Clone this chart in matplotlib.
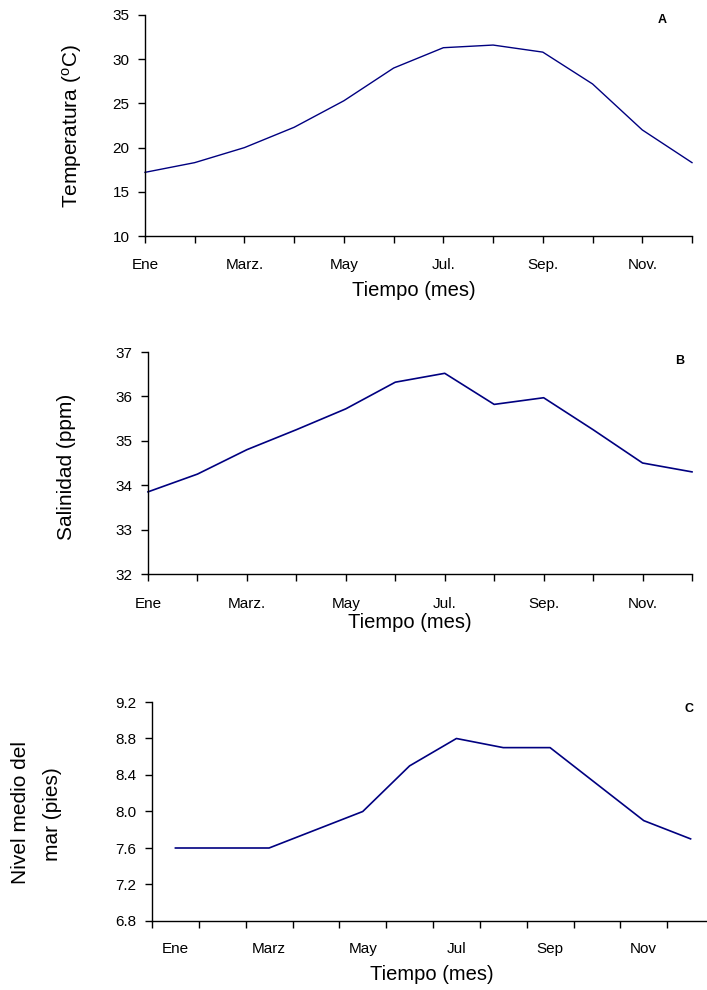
import matplotlib
matplotlib.use('Agg')
import matplotlib.pyplot as plt

W, H = 707, 990

months = list(range(12))
tick_names_a = ['Ene', '', 'Marz.', '', 'May', '', 'Jul.', '', 'Sep.', '', 'Nov.', '']
tick_names_c = ['Ene', '', 'Marz', '', 'May', '', 'Jul', '', 'Sep', '', 'Nov', '']

temperatura = [17.2, 18.3, 20.0, 22.3, 25.3, 29.0, 31.3, 31.6, 30.8, 27.2, 22.0, 18.3]
salinidad = [33.85, 34.25, 34.8, 35.25, 35.72, 36.32, 36.52, 35.82, 35.97, 35.25, 34.5, 34.3]
nivel_mar = [7.6, 7.6, 7.6, 7.8, 8.0, 8.5, 8.8, 8.7, 8.7, 8.3, 7.9, 7.7]

temp_ticks = [10, 15, 20, 25, 30, 35]
sal_ticks = [32, 33, 34, 35, 36, 37]
nivel_ticks = [6.8, 7.2, 7.6, 8.0, 8.4, 8.8, 9.2]

LINE = '#000080'
plt.rcParams['font.family'] = ['Liberation Sans', 'DejaVu Sans']
plt.rcParams['mathtext.fontset'] = 'custom'
plt.rcParams['mathtext.rm'] = 'Liberation Sans'

TICK_FS = 11
LABEL_FS = 15
XLABEL_FS = 14.5


def box(left, right, top, bottom):
    return [left / W, 1 - bottom / H, (right - left) / W, (bottom - top) / H]


def fx(px):
    return px / W


def fy(py):
    return 1 - py / H


def style(ax, yticks, ylabels, xpad):
    for s in ['top', 'right']:
        ax.spines[s].set_visible(False)
    for s in ['left', 'bottom']:
        ax.spines[s].set_linewidth(1.0)
    ax.set_yticks(yticks)
    ax.set_yticklabels(ylabels)
    ax.set_ylim(yticks[0], yticks[-1])
    ax.tick_params(axis='y', length=5, width=1, pad=6, labelsize=TICK_FS)
    ax.tick_params(axis='x', length=5, width=1, pad=xpad, labelsize=TICK_FS)


fig = plt.figure(figsize=(W / 100, H / 100), dpi=100)

# A
ax1 = fig.add_axes(box(145, 692, 15, 236))
ax1.plot(months, temperatura, color=LINE, lw=1.0, clip_on=False)
ax1.set_xlim(0, 11)
ax1.set_xticks(months)
ax1.set_xticklabels(tick_names_a)
style(ax1, temp_ticks, [str(v) for v in temp_ticks], 10.5)
fig.text(fx(72), fy(126), 'Temperatura ($\\mathregular{^{o}}$C)', rotation=90,
         ha='center', va='center', fontsize=LABEL_FS)
fig.text(fx(414), fy(291), 'Tiempo (mes)', ha='center', va='center',
         fontsize=XLABEL_FS)
fig.text(fx(662), fy(20), 'A', ha='center', va='center', fontsize=9, weight='bold')

# B
ax2 = fig.add_axes(box(148, 692, 352, 574))
ax2.plot(months, salinidad, color=LINE, lw=1.2, clip_on=False)
ax2.set_xlim(0, 11)
ax2.set_xticks(months)
ax2.set_xticklabels(tick_names_a)
style(ax2, sal_ticks, [str(v) for v in sal_ticks], 11.5)
fig.text(fx(67), fy(467), 'Salinidad (ppm)', rotation=90,
         ha='center', va='center', fontsize=LABEL_FS)
fig.text(fx(410), fy(622), 'Tiempo (mes)', ha='center', va='center',
         fontsize=XLABEL_FS)
fig.text(fx(680), fy(361), 'B', ha='center', va='center', fontsize=9, weight='bold')

# C
ax3 = fig.add_axes(box(152, 714, 702, 921))
ax3.plot(months, nivel_mar, color=LINE, lw=1.2, clip_on=False)
ax3.set_xlim(-0.5, 11.5)
ax3.set_xticks([m - 0.5 for m in months] + [11.5])
ax3.set_xticklabels([])
ax3.set_xticks(months, minor=True)
ax3.set_xticklabels(tick_names_c, minor=True)
style(ax3, nivel_ticks, ['%.1f' % v for v in nivel_ticks], 10)
ax3.tick_params(axis='x', which='minor', length=0, pad=15, labelsize=TICK_FS)
fig.text(fx(21), fy(812), 'Nivel medio del', rotation=90,
         ha='center', va='center', fontsize=LABEL_FS)
fig.text(fx(52), fy(814), 'mar (pies)', rotation=90,
         ha='center', va='center', fontsize=LABEL_FS)
fig.text(fx(432), fy(975), 'Tiempo (mes)', ha='center', va='center',
         fontsize=XLABEL_FS)
fig.text(fx(689), fy(709), 'C', ha='center', va='center', fontsize=9, weight='bold')

fig.savefig('out.png', dpi=100)
